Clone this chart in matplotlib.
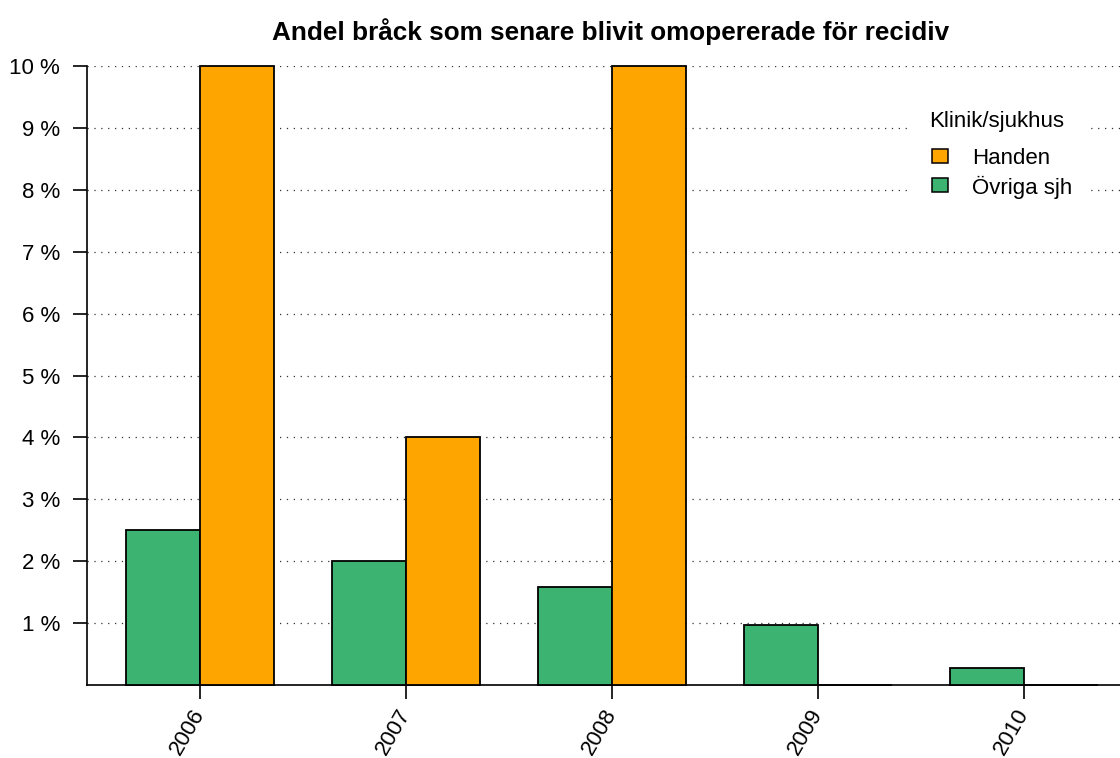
import matplotlib.pyplot as plt
import numpy as np
from matplotlib.patches import Rectangle

#----------------------------data--------------------------------------------#
years = ['2006', '2007', '2008', '2009', '2010']
ovriga = [2.5, 2.0, 1.58, 0.97, 0.28]   # Övriga sjh, percent
handen = [10.0, 4.0, 10.0, 0.0, 0.0]     # Handen, percent
yticks = [1, 2, 3, 4, 5, 6, 7, 8, 9, 10]
ytick_labels = ['%d %%' % v for v in yticks]
legend_title = 'Klinik/sjukhus'
legend_labels = ['Handen', 'Övriga sjh']

GREEN = '#3CB371'
ORANGE = '#FFA500'
W, H = 1120, 758

plt.rcParams['font.family'] = ['Liberation Sans', 'DejaVu Sans']

def fx(px):
    return px / W

def fy(py):
    return 1 - py / H

#----------------------------figure------------------------------------------#
fig = plt.figure(figsize=(W / 100, H / 100), dpi=100)
ax = fig.add_axes([fx(87), fy(685), 1 - fx(87), (685 - 66) / H])

x = np.arange(len(years))
w = 0.359
ax.bar(x - w, ovriga, width=w, align='edge', color=GREEN, edgecolor='black',
       linewidth=1.3, zorder=3, clip_on=False)
ax.bar(x, handen, width=w, align='edge', color=ORANGE, edgecolor='black',
       linewidth=1.3, zorder=3, clip_on=False)

ax.set_xlim(-0.549, 4.466)
ax.set_ylim(0, 10)

ax.set_yticks(yticks)
ax.set_yticklabels(ytick_labels, fontsize=16)
ax.set_xticks(x)
ax.set_xticklabels(years, fontsize=16, rotation=60, ha='right', va='center',
                   rotation_mode='anchor')
ax.tick_params(axis='y', length=10, width=1.2, pad=9.5)
ax.tick_params(axis='x', length=10, width=1.2, pad=8.5)

ax.yaxis.grid(True, linestyle=(0, (1, 4.5)), color='#333333', linewidth=0.9)
ax.set_axisbelow(True)
for s in ['top', 'right']:
    ax.spines[s].set_visible(False)
ax.spines['left'].set_linewidth(1.2)
ax.spines['bottom'].set_linewidth(1.2)

fig.text(fx(611), fy(40), 'Andel bråck som senare blivit omopererade för recidiv',
         ha='center', va='baseline', fontsize=18.8, fontweight='bold')

#----------------------------legend (drawn by hand, R style)-----------------#
fig.add_artist(Rectangle((fx(910), fy(205)), fx(178), 105 / H, transform=fig.transFigure,
                         facecolor='white', edgecolor='none', zorder=4))
fig.text(fx(929), fy(127), legend_title, ha='left', va='baseline', fontsize=16, zorder=5)
for col, lab, yb, yc in [(ORANGE, legend_labels[0], 164, 156),
                         (GREEN, legend_labels[1], 194, 185)]:
    fig.add_artist(Rectangle((fx(932), fy(yc + 7)), fx(16), 14 / H, transform=fig.transFigure,
                             facecolor=col, edgecolor='black', linewidth=1.1, zorder=5))
    fig.text(fx(972), fy(yb), lab, ha='left', va='baseline', fontsize=16, zorder=5)

plt.savefig('out.png', dpi=100)
